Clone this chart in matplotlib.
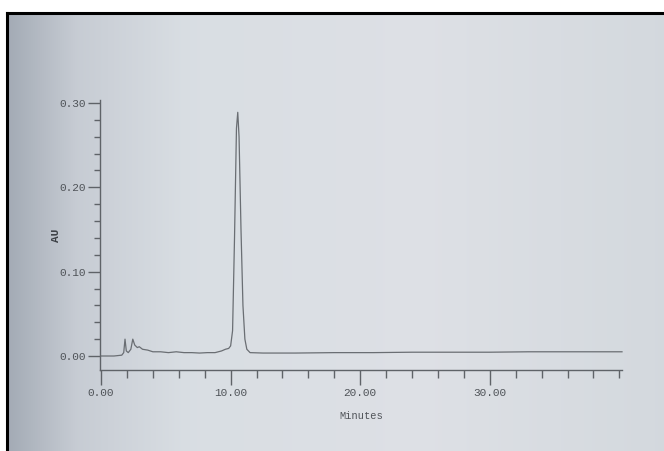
import numpy as np
import matplotlib
matplotlib.use("Agg")
import matplotlib.pyplot as plt
from matplotlib.ticker import MultipleLocator, FixedLocator

# ---- data ----
time_min = [0.0, 1.0, 1.6, 1.75, 1.85, 1.95, 2.1, 2.3, 2.45, 2.6, 2.8, 2.95, 3.2, 3.6,
            4.0, 4.6, 5.2, 5.8, 6.4, 7.0, 7.6, 8.2, 8.8, 9.3, 9.6, 9.85, 10.0,
            10.15, 10.3, 10.45, 10.55, 10.65, 10.8, 10.95, 11.1, 11.25, 11.5,
            12.5, 15.0, 18.0, 21.0, 24.0, 27.0, 30.0, 33.0, 36.0, 38.0, 40.2]
absorb_au = [0.000, 0.000, 0.001, 0.004, 0.020, 0.006, 0.004, 0.008, 0.020, 0.013, 0.010, 0.011, 0.008, 0.007,
             0.005, 0.005, 0.004, 0.005, 0.004, 0.004, 0.0035, 0.004, 0.004, 0.006, 0.008, 0.009, 0.012,
             0.03, 0.14, 0.27, 0.289, 0.26, 0.15, 0.06, 0.02, 0.008, 0.004,
             0.0035, 0.0035, 0.004, 0.004, 0.0045, 0.0045, 0.0045, 0.005, 0.005, 0.005, 0.005]

x_major = [0, 10, 20, 30]
x_labels = ["0.00", "10.00", "20.00", "30.00"]
y_major = [0.0, 0.10, 0.20, 0.30]
y_labels = ["0.00", "0.10", "0.20", "0.30"]

W, H = 664, 451
fig = plt.figure(figsize=(W / 100, H / 100), dpi=100)
fig.patch.set_facecolor("white")

# ---- photo background (gradient) + black frame ----
bg = fig.add_axes([0, 0, 1, 1])
bg.set_xlim(0, W)
bg.set_ylim(H, 0)
bg.axis("off")
stops_x = [0, 70, 180, 420, 664]
stops_c = np.array([[0.64, 0.67, 0.71], [0.78, 0.80, 0.83], [0.85, 0.87, 0.89],
                    [0.87, 0.88, 0.90], [0.83, 0.85, 0.87]])
xs = np.linspace(0, 664, 300)
grad = np.stack([np.interp(xs, stops_x, stops_c[:, i]) for i in range(3)], axis=-1)
grad = np.repeat(grad[None, :, :], 2, axis=0)
bg.imshow(grad, extent=[7, W, H, 13], aspect="auto", zorder=0)
bg.plot([7, 7], [H, 13], color="black", lw=2.2, solid_capstyle="projecting", zorder=1)
bg.plot([7, W], [13, 13], color="black", lw=2.2, solid_capstyle="projecting", zorder=1)

# ---- chromatogram axes ----
x0, x1 = 100, 622
ytop, ybot = 100, 370
ax = fig.add_axes([x0 / W, (H - ybot) / H, (x1 - x0) / W, (ybot - ytop) / H])
ax.set_facecolor("none")
ax.set_xlim(-0.08, 40.2)
ax.set_ylim(-0.0166, 0.3036)

ink = "#5f6368"
txt = "#4f5358"
ax.plot(time_min, absorb_au, color="#6a6e73", lw=0.9, clip_on=False)

for s in ["top", "right"]:
    ax.spines[s].set_visible(False)
for s in ["left", "bottom"]:
    ax.spines[s].set_color(ink)
    ax.spines[s].set_linewidth(1.0)

ax.xaxis.set_major_locator(FixedLocator(x_major))
ax.set_xticklabels(x_labels)
ax.xaxis.set_minor_locator(MultipleLocator(2))
ax.yaxis.set_major_locator(FixedLocator(y_major))
ax.set_yticklabels(y_labels)
ax.yaxis.set_minor_locator(MultipleLocator(0.02))

mono = "Liberation Mono"
ax.tick_params(axis="x", which="major", direction="out", length=11, width=1.0,
               color=ink, labelcolor=txt, labelsize=8, pad=2)
ax.tick_params(axis="x", which="minor", direction="out", length=5.5, width=1.0, color=ink)
ax.tick_params(axis="y", which="major", direction="out", length=9, width=1.0,
               color=ink, labelcolor=txt, labelsize=8, pad=1)
ax.tick_params(axis="y", which="minor", direction="out", length=4, width=1.0, color=ink)
for lab in ax.get_xticklabels() + ax.get_yticklabels():
    lab.set_family(mono)

ax.set_xlabel("Minutes", family=mono, fontsize=7.5, color=txt, labelpad=9)
ax.set_ylabel("AU", family=mono, fontsize=8, color="#3c4045", fontweight="bold", labelpad=-1)

fig.savefig("out.png", dpi=100, facecolor="white")
